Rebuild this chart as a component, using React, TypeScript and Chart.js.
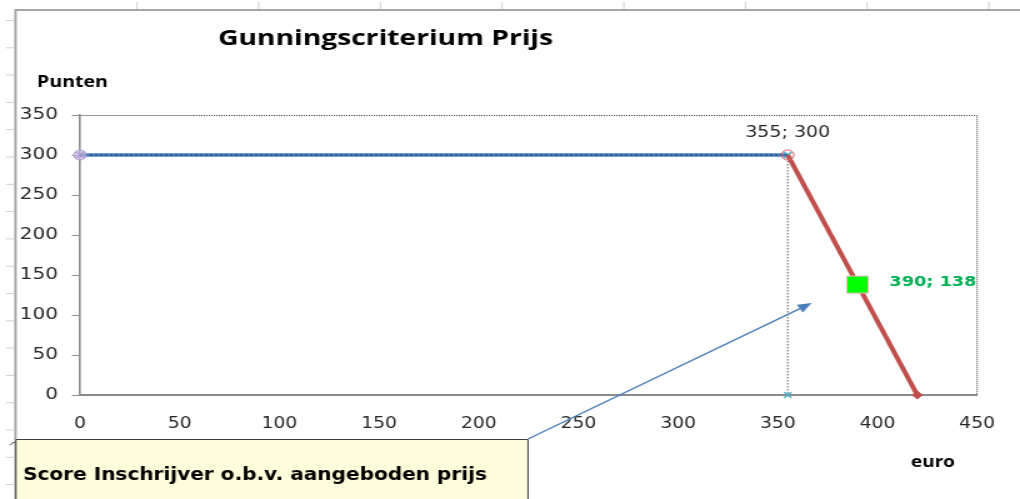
import React, { useEffect, useRef } from 'react';
import { Chart, registerables } from 'chart.js';

Chart.register(...registerables);

// The reference screenshot is horizontally stretched; draw on a narrower canvas and stretch it with CSS.
const SX = 1.25;
const CANVAS_W = 816;
const CANVAS_H = 499;

// Axes
const X_MIN = 0;
const X_MAX = 450;
const X_STEP = 50;
const Y_MIN = 0;
const Y_MAX = 350;
const Y_STEP = 50;

// Series
const flatX = [0, 355];
const flatY = [300, 300];
const slopeX = [355, 420];
const slopeY = [300, 0];
const dropX = [355, 355];
const dropY = [300, 0];
const bidX = [390];
const bidY = [138];

// Callout arrow tip (data units)
const arrowTipX = 367;
const arrowTipY = 115;

// Texts
const TITLE = 'Gunningscriterium Prijs';
const Y_TITLE = 'Punten';
const X_TITLE = 'euro';
const BOX_TEXT = 'Score Inschrijver o.b.v. aangeboden prijs';

const pts = (xs: number[], ys: number[]) => xs.map((x, i) => ({ x, y: ys[i] }));

function fitText(
  ctx: CanvasRenderingContext2D,
  text: string,
  font: string,
  color: string,
  x: number,
  y: number,
  targetW: number,
  align: CanvasTextAlign
) {
  ctx.save();
  ctx.font = font;
  ctx.fillStyle = color;
  ctx.textBaseline = 'alphabetic';
  ctx.textAlign = align;
  const w = ctx.measureText(text).width || 1;
  ctx.translate(x, y);
  ctx.scale(targetW / w, 1);
  ctx.fillText(text, 0, 0);
  ctx.restore();
}

const decor = {
  id: 'decor',
  beforeDraw(chart: any) {
    const ctx: CanvasRenderingContext2D = chart.ctx;
    ctx.save();
    ctx.fillStyle = '#ffffff';
    ctx.fillRect(0, 0, chart.width, chart.height);
    // spreadsheet frame
    ctx.strokeStyle = '#cfcfcf';
    ctx.lineWidth = 1;
    for (let X = 137; X < 1020; X += 121.7) {
      ctx.beginPath();
      ctx.moveTo(X / SX, 2);
      ctx.lineTo(X / SX, 10);
      ctx.stroke();
    }
    for (let Y = 20.5; Y < 499; Y += 27.3) {
      ctx.beginPath();
      ctx.moveTo(6 / SX, Y);
      ctx.lineTo(14 / SX, Y);
      ctx.stroke();
    }
    ctx.strokeStyle = '#a6a6a6';
    ctx.lineWidth = 2;
    ctx.beginPath();
    ctx.moveTo(chart.width, 10);
    ctx.lineTo(15.5 / SX, 10);
    ctx.lineTo(15.5 / SX, chart.height);
    ctx.stroke();
    ctx.restore();
  },
  beforeDatasetsDraw(chart: any) {
    const ctx: CanvasRenderingContext2D = chart.ctx;
    const a = chart.chartArea;
    const xs = chart.scales.x;
    ctx.save();
    ctx.strokeStyle = '#9a9a9a';
    ctx.lineWidth = 1;
    ctx.beginPath();
    ctx.moveTo(a.left, a.top + 0.5);
    ctx.lineTo(xs.getPixelForValue(57), a.top + 0.5);
    ctx.stroke();
    ctx.strokeStyle = '#3a3a3a';
    ctx.setLineDash([1, 1]);
    ctx.beginPath();
    ctx.moveTo(xs.getPixelForValue(57), a.top + 0.5);
    ctx.lineTo(a.right, a.top + 0.5);
    ctx.lineTo(a.right, a.bottom);
    ctx.stroke();
    ctx.restore();
  },
  afterDraw(chart: any) {
    const ctx: CanvasRenderingContext2D = chart.ctx;
    const xs = chart.scales.x;
    const ys = chart.scales.y;

    fitText(ctx, TITLE, 'bold 22px "Open Sans"', '#000000', 385.5 / SX, 45, 335 / SX, 'center');
    fitText(ctx, Y_TITLE, 'bold 16px "Open Sans"', '#000000', 37 / SX, 87, 71 / SX, 'left');
    fitText(ctx, X_TITLE, 'bold 16px "Open Sans"', '#000000', 911 / SX, 467, 44 / SX, 'left');

    // data labels
    fitText(
      ctx,
      `${flatX[1]}; ${flatY[1]}`,
      '15px "DejaVu Sans"',
      '#262626',
      xs.getPixelForValue(flatX[1]),
      ys.getPixelForValue(flatY[1]) - 18,
      85 / SX,
      'center'
    );
    fitText(
      ctx,
      `${bidX[0]}; ${bidY[0]}`,
      'bold 14px "DejaVu Sans"',
      '#00b050',
      xs.getPixelForValue(bidX[0]) + 32 / SX,
      ys.getPixelForValue(bidY[0]) + 1,
      87 / SX,
      'left'
    );

    // callout arrow
    const x0 = 528 / SX;
    const y0 = 439;
    const x1 = xs.getPixelForValue(arrowTipX);
    const y1 = ys.getPixelForValue(arrowTipY);
    const dx = x1 - x0;
    const dy = y1 - y0;
    const len = Math.hypot(dx, dy);
    const ux = dx / len;
    const uy = dy / len;
    const hl = 11;
    const hw = 4.5;
    const bx = x1 - ux * hl;
    const by = y1 - uy * hl;
    ctx.save();
    ctx.strokeStyle = '#4a7ebb';
    ctx.fillStyle = '#4a7ebb';
    ctx.lineWidth = 1.4;
    ctx.beginPath();
    ctx.moveTo(x0, y0);
    ctx.lineTo(bx, by);
    ctx.stroke();
    ctx.beginPath();
    ctx.moveTo(x1, y1);
    ctx.lineTo(bx - uy * hw, by + ux * hw);
    ctx.lineTo(bx + uy * hw, by - ux * hw);
    ctx.closePath();
    ctx.fill();

    // callout box
    ctx.fillStyle = '#fefddb';
    ctx.strokeStyle = '#3f3f3f';
    ctx.lineWidth = 1;
    ctx.fillRect(16 / SX, y0, (528 - 16) / SX, chart.height - y0 + 2);
    ctx.beginPath();
    ctx.moveTo(16 / SX, chart.height + 2);
    ctx.lineTo(16 / SX, y0 + 0.5);
    ctx.lineTo(528 / SX, y0 + 0.5);
    ctx.lineTo(528 / SX, chart.height + 2);
    ctx.stroke();
    ctx.strokeStyle = '#555555';
    ctx.beginPath();
    ctx.arc(16 / SX, y0 + 8, 5, Math.PI * 1.1, Math.PI * 1.5);
    ctx.stroke();
    ctx.restore();

    fitText(ctx, BOX_TEXT, 'bold 17px "DejaVu Sans"', '#000000', 23 / SX, 480, 464 / SX, 'left');
  },
};

export default function App() {
  const ref = useRef<HTMLCanvasElement | null>(null);

  useEffect(() => {
    const canvas = ref.current;
    if (!canvas) return;
    const chart = new Chart(canvas, {
      type: 'scatter',
      data: {
        datasets: [
          {
            label: 'bod',
            data: pts(bidX, bidY),
            showLine: false,
            pointStyle: 'rect',
            pointRadius: 12,
            backgroundColor: '#00ff00',
            borderColor: '#e6b9b8',
            borderWidth: 1,
            clip: false,
          },
          {
            label: 'aflopend',
            data: pts(slopeX, slopeY),
            showLine: true,
            borderColor: '#c0504d',
            borderWidth: 4,
            pointStyle: ['circle', 'rectRot'],
            pointRadius: [5, 4],
            pointBackgroundColor: ['rgba(0,0,0,0)', '#c0504d'],
            pointBorderColor: ['#e06666', '#c0504d'],
            pointBorderWidth: 1,
            clip: false,
          },
          {
            label: 'vlak-stippel',
            data: pts(flatX, flatY),
            showLine: true,
            borderColor: '#1f3864',
            borderWidth: 1,
            borderDash: [2, 2],
            pointStyle: 'circle',
            pointRadius: [5, 0],
            pointBackgroundColor: 'rgba(200,185,230,0.6)',
            pointBorderColor: '#b4a0d8',
            pointBorderWidth: 1,
            clip: false,
          },
          {
            label: 'vlak',
            data: pts(flatX, flatY),
            showLine: true,
            borderColor: '#4a7ebb',
            borderWidth: 3.5,
            pointStyle: 'crossRot',
            pointRadius: 5,
            pointBorderColor: ['#9b7fc8', '#4bacc6'],
            pointBorderWidth: 1.5,
            clip: false,
          },
          {
            label: 'loodlijn',
            data: pts(dropX, dropY),
            showLine: true,
            borderColor: '#595959',
            borderWidth: 1,
            borderDash: [1.5, 1.5],
            pointStyle: 'crossRot',
            pointRadius: [0, 4],
            pointBorderColor: '#4bacc6',
            pointBorderWidth: 1.5,
            clip: false,
          },
        ],
      },
      options: {
        animation: false,
        responsive: false,
        events: [],
        layout: {
          padding: { left: 0, top: 115, right: CANVAS_W - 978 / SX, bottom: 64 },
        },
        elements: { line: { tension: 0 } },
        plugins: {
          legend: { display: false },
          tooltip: { enabled: false },
          title: { display: false },
        },
        scales: {
          x: {
            type: 'linear',
            min: X_MIN,
            max: X_MAX,
            ticks: {
              stepSize: X_STEP,
              padding: 20,
              color: '#262626',
              font: { family: '"DejaVu Sans"', size: 15 },
            },
            grid: { display: true, drawOnChartArea: false, drawTicks: false },
            border: { display: true, color: '#8c8c8c', width: 2 },
            afterFit: (s: any) => {
              s.height = 40;
            },
          },
          y: {
            type: 'linear',
            min: Y_MIN,
            max: Y_MAX,
            ticks: {
              stepSize: Y_STEP,
              padding: 11.2,
              color: '#262626',
              font: { family: '"DejaVu Sans"', size: 16 },
            },
            grid: {
              display: true,
              drawOnChartArea: false,
              drawTicks: true,
              tickLength: 6.4,
              color: '#8c8c8c',
            },
            border: { display: true, color: '#8c8c8c', width: 1.6 },
            afterFit: (s: any) => {
              s.width = 64;
            },
          },
        },
      },
      plugins: [decor],
    });
    return () => chart.destroy();
  }, []);

  return (
    <div style={{ position: 'fixed', left: 0, top: 0, width: 1020, height: 499, background: '#ffffff', overflow: 'hidden' }}>
      <canvas
        ref={ref}
        width={CANVAS_W}
        height={CANVAS_H}
        style={{ width: '1020px', height: '499px', display: 'block' }}
      />
    </div>
  );
}
